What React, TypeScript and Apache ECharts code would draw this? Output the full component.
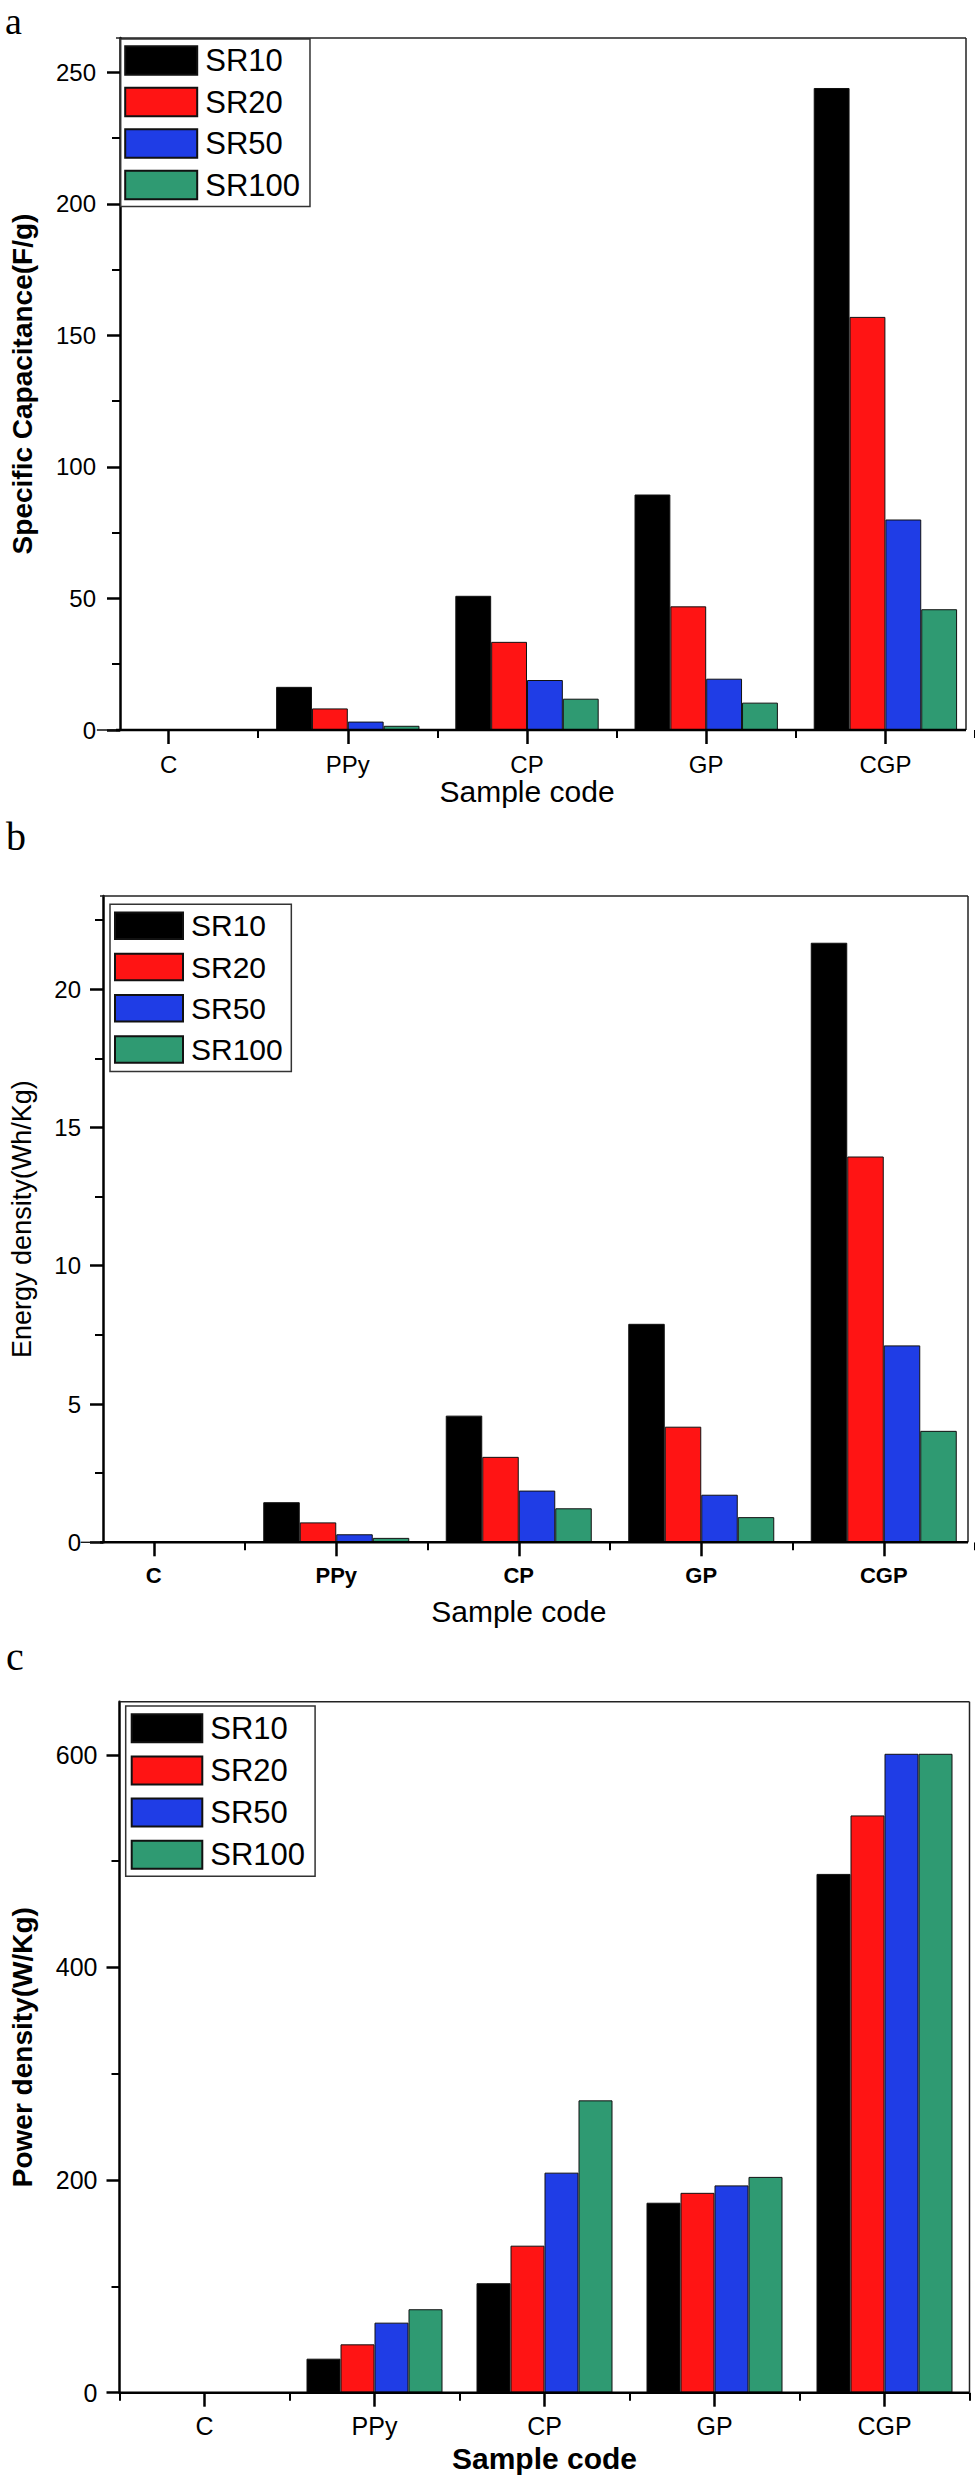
import React, { useEffect, useRef } from "react";
import * as echarts from "echarts";

const categories = ["C", "PPy", "CP", "GP", "CGP"];
const seriesNames = ["SR10", "SR20", "SR50", "SR100"];
const seriesColors = ["#000000", "#ff1414", "#1f3de6", "#2f9a72"];

// Panel a: Specific Capacitance (F/g)
const capSR10 = [0, 16.4, 51, 89.5, 244];
const capSR20 = [0, 8.2, 33.5, 47, 157];
const capSR50 = [0, 3.2, 19, 19.5, 80];
const capSR100 = [0, 1.6, 11.9, 10.4, 45.9];
const capTicks = [0, 50, 100, 150, 200, 250];
const capMinorTicks = [25, 75, 125, 175, 225];

// Panel b: Energy density (Wh/Kg)
const energySR10 = [0, 1.45, 4.58, 7.9, 21.68];
const energySR20 = [0, 0.72, 3.09, 4.18, 13.95];
const energySR50 = [0, 0.29, 1.87, 1.72, 7.12];
const energySR100 = [0, 0.16, 1.23, 0.91, 4.03];
const energyTicks = [0, 5, 10, 15, 20];
const energyMinorTicks = [2.5, 7.5, 12.5, 17.5, 22.5];

// Panel c: Power density (W/Kg)
const powerSR10 = [0, 32, 103, 178.7, 488];
const powerSR20 = [0, 45.5, 138.3, 188, 543];
const powerSR50 = [0, 65.9, 207, 195, 601];
const powerSR100 = [0, 78.5, 275, 203, 601];
const powerTicks = [0, 200, 400, 600];
const powerMinorTicks = [100, 300, 500];

const FONT = "Liberation Sans, Arial, sans-serif";

const panels = [
  {
    letter: "a", letterX: 5, letterY: 21, letterSize: 38,
    values: [capSR10, capSR20, capSR50, capSR100],
    ticks: capTicks, minor: capMinorTicks, max: 263,
    yName: "Specific Capacitance(F/g)", yNameBold: true, yNameSize: 28, yNameGap: 84,
    gridLeft: 75, gridWidth: 930, top: 38, bottom: 730, axisX: 116, frameRight: 966,
    yLabelSize: 24, yLabelMargin: 24,
    xLabelSize: 24, xLabelBold: false, xLabelMargin: 22,
    xNameSize: 30, xNameBold: false, xNameGap: 44,
    hideFirstBoundary: true,
    legend: { left: 120.7, top: 39, padding: [6, 10, 6, 3.5], itemWidth: 72, itemHeight: 28.5, itemGap: 10.5, fontSize: 31 },
  },
  {
    letter: "b", letterX: 6, letterY: 836, letterSize: 40,
    values: [energySR10, energySR20, energySR50, energySR100],
    ticks: energyTicks, minor: energyMinorTicks, max: 23.37,
    yName: "Energy density(Wh/Kg)", yNameBold: false, yNameSize: 27, yNameGap: 68,
    gridLeft: 59.5, gridWidth: 948, top: 896, bottom: 1542.3, axisX: 100, frameRight: 968,
    yLabelSize: 24, yLabelMargin: 22,
    xLabelSize: 22, xLabelBold: true, xLabelMargin: 22,
    xNameSize: 30, xNameBold: false, xNameGap: 54,
    hideFirstBoundary: true,
    legend: { left: 110, top: 904.3, padding: [6.4, 8.6, 7, 4], itemWidth: 68, itemHeight: 26.5, itemGap: 11.3, fontSize: 30 },
  },
  {
    letter: "c", letterX: 6, letterY: 1656, letterSize: 40,
    values: [powerSR10, powerSR20, powerSR50, powerSR100],
    ticks: powerTicks, minor: powerMinorTicks, max: 650,
    yName: "Power density(W/Kg)", yNameBold: true, yNameSize: 28, yNameGap: 83,
    gridLeft: 119.5, gridWidth: 850, top: 1701.7, bottom: 2392.7, axisX: 119.5, frameRight: 969.5,
    yLabelSize: 25, yLabelMargin: 22,
    xLabelSize: 25, xLabelBold: false, xLabelMargin: 21,
    xNameSize: 30, xNameBold: true, xNameGap: 51,
    hideFirstBoundary: false,
    legend: { left: 125.7, top: 1706, padding: [6.7, 10, 6, 5], itemWidth: 70.6, itemHeight: 28, itemGap: 11.2, fontSize: 31 },
  },
];

function buildOption() {
  const grid: any[] = [];
  const xAxis: any[] = [];
  const yAxis: any[] = [];
  const series: any[] = [];
  const legend: any[] = [];
  const graphic: any[] = [];

  panels.forEach((p, i) => {
    grid.push({ left: p.gridLeft, width: p.gridWidth, top: p.top, height: p.bottom - p.top, containLabel: false });
    const offset = -(p.axisX - p.gridLeft);
    xAxis.push({
      type: "category", gridIndex: i, data: categories, position: "bottom",
      axisLine: { show: false },
      axisTick: { show: true, alignWithLabel: true, interval: 0, length: 14, lineStyle: { color: "#000", width: 2.5 } },
      axisLabel: { interval: 0, margin: p.xLabelMargin, color: "#000", fontSize: p.xLabelSize, fontFamily: FONT, fontWeight: p.xLabelBold ? "bold" : "normal" },
      name: "Sample code", nameLocation: "middle", nameGap: p.xNameGap,
      nameTextStyle: { color: "#000", fontSize: p.xNameSize, fontFamily: FONT, fontWeight: p.xNameBold ? "bold" : "normal" },
      splitLine: { show: false },
    });
    xAxis.push({
      type: "category", gridIndex: i, data: categories, position: "bottom",
      axisLine: { show: false },
      axisTick: {
        show: true, alignWithLabel: false, length: 8, lineStyle: { color: "#000", width: 2 },
        interval: p.hideFirstBoundary ? (idx: number) => idx !== 0 : 0,
      },
      axisLabel: { show: false },
      splitLine: { show: false },
    });
    yAxis.push({
      type: "value", gridIndex: i, min: 0, max: p.max, position: "left", offset,
      axisLine: { show: true, lineStyle: { color: "#000", width: 2.5 } },
      axisTick: { show: true, length: 13, customValues: p.ticks, lineStyle: { color: "#000", width: 2.5 } },
      axisLabel: { customValues: p.ticks, margin: p.yLabelMargin, color: "#000", fontSize: p.yLabelSize, fontFamily: FONT },
      splitLine: { show: false },
      name: p.yName, nameLocation: "middle", nameGap: p.yNameGap, nameRotate: 90,
      nameTextStyle: { color: "#000", fontSize: p.yNameSize, fontFamily: FONT, fontWeight: p.yNameBold ? "bold" : "normal" },
    });
    yAxis.push({
      type: "value", gridIndex: i, min: 0, max: p.max, position: "left", offset,
      axisLine: { show: false },
      axisTick: { show: true, length: 8, customValues: p.minor, lineStyle: { color: "#000", width: 2 } },
      axisLabel: { show: false },
      splitLine: { show: false },
    });
    seriesNames.forEach((name, s) => {
      series.push({
        type: "bar", name, xAxisIndex: 2 * i, yAxisIndex: 2 * i,
        data: p.values[s], barGap: "0%", barCategoryGap: "20%",
        itemStyle: { color: seriesColors[s], borderColor: "#111", borderWidth: 1 },
        emphasis: { disabled: true },
      });
    });
    legend.push({
      data: seriesNames, orient: "vertical", left: p.legend.left, top: p.legend.top,
      padding: p.legend.padding, itemWidth: p.legend.itemWidth, itemHeight: p.legend.itemHeight,
      itemGap: p.legend.itemGap, icon: "rect", selectedMode: false,
      backgroundColor: "#fff", borderColor: "#333", borderWidth: 1.5,
      textStyle: { color: "#000", fontSize: p.legend.fontSize, fontFamily: FONT, lineHeight: p.legend.itemHeight, padding: [0, 0, 0, 3] },
    });
    // frame
    if (p.frameRight + 1 < p.gridLeft + p.gridWidth) {
      graphic.push({
        type: "rect", z: 15, silent: true,
        shape: { x: p.frameRight + 1, y: p.top - 2, width: 975 - p.frameRight, height: p.bottom - p.top + 2 },
        style: { fill: "#fff" },
      });
    }
    graphic.push({ type: "line", z: 20, silent: true, shape: { x1: p.axisX, y1: p.top, x2: p.frameRight, y2: p.top }, style: { stroke: "#222", lineWidth: 1.5 } });
    graphic.push({ type: "line", z: 20, silent: true, shape: { x1: p.frameRight, y1: p.top, x2: p.frameRight, y2: p.bottom }, style: { stroke: "#222", lineWidth: 1.5 } });
    graphic.push({ type: "line", z: 20, silent: true, shape: { x1: p.axisX, y1: p.bottom, x2: p.frameRight, y2: p.bottom }, style: { stroke: "#000", lineWidth: 2.5 } });
    graphic.push({
      type: "text", z: 20, x: p.letterX, y: p.letterY, silent: true,
      style: { text: p.letter, fontSize: p.letterSize, lineHeight: p.letterSize, fontFamily: "Liberation Serif, Times New Roman, serif", fill: "#000", verticalAlign: "middle", align: "left" },
    });
  });

  return { animation: false, backgroundColor: "#fff", grid, xAxis, yAxis, series, legend, graphic };
}

export default function App() {
  const ref = useRef<HTMLDivElement>(null);
  useEffect(() => {
    if (!ref.current) return;
    const chart = echarts.init(ref.current, undefined, { renderer: "svg" });
    chart.setOption(buildOption() as any);
    return () => chart.dispose();
  }, []);
  return <div ref={ref} style={{ position: "absolute", left: 0, top: 0, width: 975, height: 2480 }} />;
}
